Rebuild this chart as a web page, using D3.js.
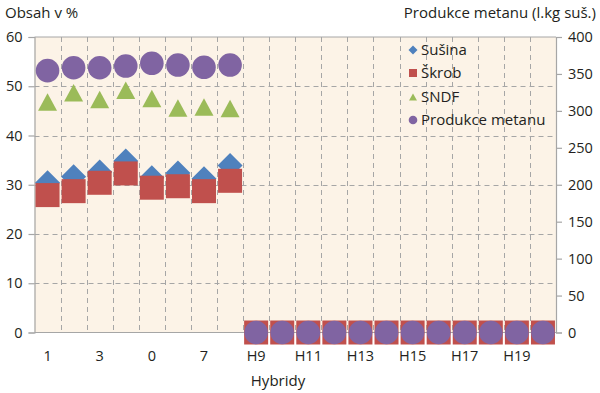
<!DOCTYPE html>
<html><head><meta charset="utf-8">
<script src="https://cdn.jsdelivr.net/npm/d3@7"></script>
<style>
html,body{margin:0;padding:0;background:#fff;}
svg text{font-family:"Open Sans",sans-serif;fill:#231f20;}
</style></head>
<body>
<svg id="c" width="600" height="393"></svg>
<script>
const categories = ["1","2","3","4","0","6","7","8","H9","H10","H11","H12","H13","H14","H15","H16","H17","H18","H19","H20"];
const labelShown = ["1","3","0","7","H9","H11","H13","H15","H17","H19"];
const susina = [30.4,31.6,32.6,34.8,31.4,32.4,31.2,33.9,null,null,null,null,null,null,null,null,null,null,null,null];
const skrob = [27.9,28.7,30.4,32.3,29.4,29.7,28.7,30.8,0,0,0,0,0,0,0,0,0,0,0,0];
const sndf = [46.8,48.7,47.3,49.2,47.5,45.6,45.8,45.5,null,null,null,null,null,null,null,null,null,null,null,null];
const metan = [354.5,358.4,358.4,360.7,364.4,362,359,362,0,0,0,0,0,0,0,0,0,0,0,0];
const leftTicks = [0,10,20,30,40,50,60];
const rightTicks = [0,50,100,150,200,250,300,350,400];
const seriesNames = ["Sušina","Škrob","SNDF","Produkce metanu"];
const colors = ["#4F81BD","#C0504D","#9BBB59","#8064A2"];

const svg = d3.select("#c");
const L=34.5, R=556, T=37, B=332.5;
const x = d3.scaleBand().domain(categories).range([L,R]).padding(0);
const yL = d3.scaleLinear().domain([0,60]).range([B,T]);
const yR = d3.scaleLinear().domain([0,400]).range([B,T]);
const grid="#a6a6a6";

svg.append("rect").attr("x",L).attr("y",T).attr("width",R-L).attr("height",B-T).attr("fill","#fcf3e7");

// vertical dashed grid
svg.append("g").selectAll("line").data(categories.slice(1)).join("line")
  .attr("x1",d=>Math.round(x(d))+0.5).attr("x2",d=>Math.round(x(d))+0.5)
  .attr("y1",T).attr("y2",B).attr("stroke",grid).attr("stroke-dasharray","5,4");
// horizontal dashed grid
svg.append("g").selectAll("line").data(leftTicks.filter(v=>v>0&&v<60)).join("line")
  .attr("x1",L).attr("x2",R).attr("y1",d=>Math.round(yL(d))+0.5).attr("y2",d=>Math.round(yL(d))+0.5)
  .attr("stroke",grid).attr("stroke-dasharray","5,4");
svg.append("line").attr("x1",L).attr("x2",R).attr("y1",T).attr("y2",T).attr("stroke",grid);

// axes
const ga = svg.append("g").attr("transform",`translate(${L},0)`)
  .call(d3.axisLeft(yL).tickValues(leftTicks).tickSize(6).tickPadding(6));
const gb = svg.append("g").attr("transform",`translate(${R},0)`)
  .call(d3.axisRight(yR).tickValues(rightTicks).tickSize(6).tickPadding(6));
const gx = svg.append("g").attr("transform",`translate(0,${B})`)
  .call(d3.axisBottom(x).tickSize(0).tickPadding(18).tickFormat(d=>labelShown.includes(d)?d:""));
[ga,gb,gx].forEach(g=>{
  g.selectAll("path,line").attr("stroke",grid).attr("stroke-width",1.2);
  g.selectAll("text").style("font-size","14.5px").attr("fill","#231f20");
});
gx.select(".domain").attr("d",`M${L},0H${R}`);

// markers
const cx = i=>x(categories[i])+x.bandwidth()/2;
const diamond = s=>`M0,${-s}L${s},0L0,${s}L${-s},0Z`;
const tri = (w,h)=>`M0,${-h/2}L${w/2},${h/2}L${-w/2},${h/2}Z`;

svg.append("g").selectAll("path").data(susina.map((v,i)=>({v,i})).filter(d=>d.v!=null)).join("path")
  .attr("d",diamond(12.5)).attr("fill",colors[0])
  .attr("transform",d=>`translate(${cx(d.i)},${yL(d.v)})`);
svg.append("g").selectAll("rect").data(skrob.map((v,i)=>({v,i})).filter(d=>d.v!=null)).join("rect")
  .attr("x",d=>cx(d.i)-12).attr("y",d=>yL(d.v)-12).attr("width",24).attr("height",24).attr("fill",colors[1]);
svg.append("g").selectAll("path").data(sndf.map((v,i)=>({v,i})).filter(d=>d.v!=null)).join("path")
  .attr("d",tri(19,17.5)).attr("fill",colors[2])
  .attr("transform",d=>`translate(${cx(d.i)},${yL(d.v)})`);
svg.append("g").selectAll("circle").data(metan.map((v,i)=>({v,i})).filter(d=>d.v!=null)).join("circle")
  .attr("cx",d=>cx(d.i)).attr("cy",d=>yR(d.v)).attr("r",11.8).attr("fill",colors[3]);

// titles
svg.append("text").attr("x",5).attr("y",18).style("font-size","15px").text("Obsah v %");
svg.append("text").attr("x",596).attr("y",18).attr("text-anchor","end").style("font-size","15px").text("Produkce metanu (l.kg suš.)");
svg.append("text").attr("x",278).attr("y",386).attr("text-anchor","middle").style("font-size","15px").text("Hybridy");

// legend
const leg = svg.append("g");
const ly = [50,73,97,120];
seriesNames.forEach((n,i)=>{
  const g = leg.append("g").attr("transform",`translate(413,${ly[i]})`);
  if(i===0) g.append("path").attr("d",diamond(4.5)).attr("fill",colors[0]);
  if(i===1) g.append("rect").attr("x",-4).attr("y",-4).attr("width",8).attr("height",8).attr("fill",colors[1]);
  if(i===2) g.append("path").attr("d",tri(8,7)).attr("fill",colors[2]);
  if(i===3) g.append("circle").attr("r",4.3).attr("fill",colors[3]);
  g.append("text").attr("x",8).attr("dy","0.36em").style("font-size","15px").text(n);
});
</script>
</body></html>
